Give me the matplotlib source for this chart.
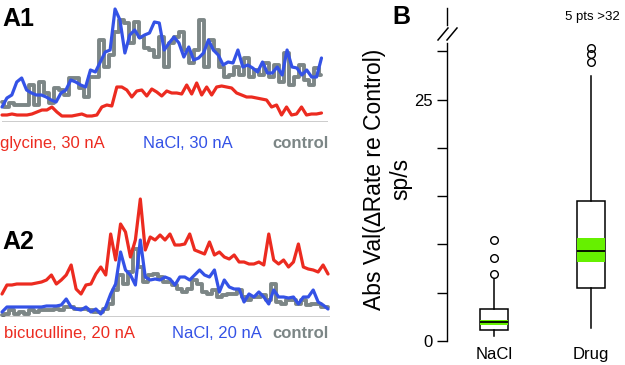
import numpy as np
import matplotlib
matplotlib.use("Agg")
import matplotlib.pyplot as plt

plt.rcParams['font.family'] = ['Liberation Sans', 'DejaVu Sans']

# firing-rate traces (sp/s-ish units, height above baseline)
a1_glycine = [7, 7, 8, 7, 7, 7, 8, 10, 12, 12, 15, 10, 6, 6, 6, 7, 8, 6, 6, 7,
              15, 17, 16, 35, 35, 32, 25, 31, 32, 26, 33, 30, 26, 31, 29, 29, 28,
              37, 28, 39, 27, 35, 27, 35, 36, 35, 34, 29, 27, 25, 25, 24, 23, 22,
              15, 17, 7, 15, 7, 8, 15, 7, 8, 8, 9]
a1_nacl = [15, 24, 27, 40, 44, 32, 29, 27, 27, 25, 22, 20, 29, 32, 42, 40, 37, 35,
           52, 50, 60, 70, 72, 113, 102, 69, 87, 92, 84, 87, 89, 100, 99, 72, 79,
           85, 79, 65, 75, 62, 64, 69, 82, 72, 67, 57, 60, 59, 72, 55, 57, 54, 50,
           60, 49, 49, 55, 47, 72, 55, 54, 47, 52, 45, 45, 64]
a1_control = [20, 15, 19, 17, 17, 17, 37, 17, 40, 29, 19, 34, 32, 27, 44, 44, 34,
              25, 45, 45, 82, 55, 67, 90, 102, 99, 79, 100, 85, 74, 72, 65, 85, 55,
              79, 85, 90, 72, 59, 72, 102, 55, 82, 72, 55, 45, 47, 55, 47, 64, 45,
              52, 47, 59, 45, 57, 40, 69, 37, 45, 57, 42, 37, 54, 47]

a2_bicuculline = [23, 32, 32, 33, 33, 33, 33, 34, 35, 37, 42, 33, 37, 42, 52, 28,
                  23, 32, 33, 43, 50, 42, 83, 57, 93, 85, 60, 77, 118, 67, 80, 77,
                  82, 77, 83, 72, 72, 73, 83, 67, 65, 63, 75, 62, 65, 60, 58, 62, 55,
                  55, 53, 53, 55, 52, 83, 57, 53, 57, 50, 55, 73, 50, 48, 47, 45, 52, 43]
a2_nacl = [5, 10, 10, 10, 10, 10, 10, 10, 10, 11, 11, 11, 12, 18, 10, 8, 7, 10, 5,
           8, 3, 10, 23, 33, 65, 47, 42, 32, 77, 40, 37, 38, 37, 40, 38, 32, 40, 40,
           37, 42, 47, 42, 40, 47, 25, 37, 30, 28, 28, 15, 23, 20, 25, 20, 13, 27,
           20, 20, 19, 20, 13, 20, 20, 27, 15, 12, 8]
a2_control = [2, 3, 7, 3, 5, 3, 7, 5, 7, 7, 7, 8, 7, 10, 10, 8, 8, 8, 7, 5, 5, 8,
              13, 27, 42, 33, 45, 68, 50, 35, 42, 43, 40, 35, 35, 32, 28, 25, 28,
              37, 33, 25, 23, 27, 20, 22, 23, 23, 27, 20, 17, 20, 20, 22, 17, 33, 15,
              13, 17, 17, 13, 17, 12, 13, 13, 10, 10]

# panel B box summaries
groups = ['NaCl', 'Drug']
box_low = [1.1, 5.5]
box_med = [1.95, 9.35]
box_high = [3.3, 14.5]
whisk_low = [0.5, 1.3]
whisk_high = [6.4, 27.5]
notch_low = [1.65, 8.15]
notch_high = [2.2, 10.65]
outliers = [[6.9, 8.6, 10.5], [28.9, 29.7, 30.4]]

RED = '#ec2b20'
BLUE = '#3452e6'
GRAY = '#7c8686'
GREEN = '#66f000'

W, H = 625, 365
fig = plt.figure(figsize=(W / 100, H / 100), dpi=100)


def px_axes(left, top, right, bottom):
    return fig.add_axes([left / W, 1 - bottom / H, (right - left) / W, (bottom - top) / H])


def trace_panel(left, top, right, bottom, ymax, span, traces):
    ax = px_axes(left, top, right, bottom)
    for vals, color, style, lw in traces:
        x = np.linspace(0, span, len(vals))
        ax.plot(x, vals, color=color, lw=lw, drawstyle=style,
                solid_joinstyle='round', solid_capstyle='round', clip_on=False)
    ax.axhline(0, color='black', lw=1.0)
    ax.set_xlim(0, 1)
    ax.set_ylim(0, ymax)
    ax.axis('off')
    return ax


trace_panel(2, 5, 328, 122, 117, 0.98,
            [(a1_control, GRAY, 'steps-mid', 2.8), (a1_nacl, BLUE, 'default', 2.3),
             (a1_glycine, RED, 'default', 2.3)])
trace_panel(2, 190, 330, 317, 127, 0.994,
            [(a2_control, GRAY, 'steps-mid', 2.8), (a2_nacl, BLUE, 'default', 2.3),
             (a2_bicuculline, RED, 'default', 2.3)])


def ftext(x, y, s, **kw):
    fig.text(x / W, 1 - y / H, s, **kw)


ftext(2, 19, 'A1', fontsize=18, fontweight='bold', va='center')
ftext(2, 242, 'A2', fontsize=18, fontweight='bold', va='center')
ftext(392, 17, 'B', fontsize=18, fontweight='bold', va='center')

ftext(0, 144, 'glycine, 30 nA', color=RED, fontsize=12, va='center')
ftext(143, 144, 'NaCl, 30 nA', color=BLUE, fontsize=12, va='center')
ftext(329, 144, 'control', color=GRAY, fontsize=12, fontweight='bold', va='center', ha='right')
ftext(4, 333, 'bicuculline, 20 nA', color=RED, fontsize=12, va='center')
ftext(172, 333, 'NaCl, 20 nA', color=BLUE, fontsize=12, va='center')
ftext(329, 333, 'control', color=GRAY, fontsize=12, fontweight='bold', va='center', ha='right')

# panel B
ax = px_axes(447, 10, 625, 341)
stats = []
for i, g in enumerate(groups):
    stats.append(dict(label=g, q1=box_low[i], med=box_med[i], q3=box_high[i],
                      whislo=whisk_low[i], whishi=whisk_high[i], fliers=outliers[i]))
pos = [1, 2]
ax.bar(pos, np.subtract(notch_high, notch_low), bottom=notch_low, width=0.29,
       color=GREEN, zorder=3)
ax.bxp(stats, positions=pos, widths=0.29, showcaps=False, patch_artist=True,
       boxprops=dict(facecolor='white', edgecolor='black', lw=1.1),
       whiskerprops=dict(color='black', lw=1.1),
       medianprops=dict(color='black', lw=1.3, zorder=4),
       flierprops=dict(marker='o', markerfacecolor='none', markeredgecolor='black',
                       markersize=5.5, markeredgewidth=1.0),
       zorder=2)
ax.set_xlim(0.515, 2.35)
ax.set_ylim(0, 34.3)
ax.set_yticks([0, 5, 10, 15, 20, 25, 30])
ax.set_yticklabels(['0', '', '', '', '', '25', ''])
ax.tick_params(axis='y', direction='out', length=7, width=1, labelsize=12, pad=3)
ax.tick_params(axis='x', length=0, labelsize=12, pad=4)
for s in ['top', 'right', 'bottom']:
    ax.spines[s].set_visible(False)
ax.spines['left'].set_bounds(0, 30.9)
ax.spines['left'].set_linewidth(1)

# axis break
fig.add_artist(plt.Line2D([447 / W, 447 / W], [1 - 8 / H, 1 - 25 / H], color='black', lw=1))
for dx in (0, 9):
    fig.add_artist(plt.Line2D([(438 + dx) / W, (448 + dx) / W],
                              [1 - 40 / H, 1 - 28 / H], color='black', lw=1.1))

ftext(592, 17, '5 pts >32', fontsize=9.5, ha='center', va='center')
ftext(388, 179, 'Abs Val(\u2206Rate re Control)\nsp/s', fontsize=16.5, rotation=90,
      ha='center', va='center', multialignment='center', linespacing=1.2)

fig.savefig('out.png', dpi=100)
